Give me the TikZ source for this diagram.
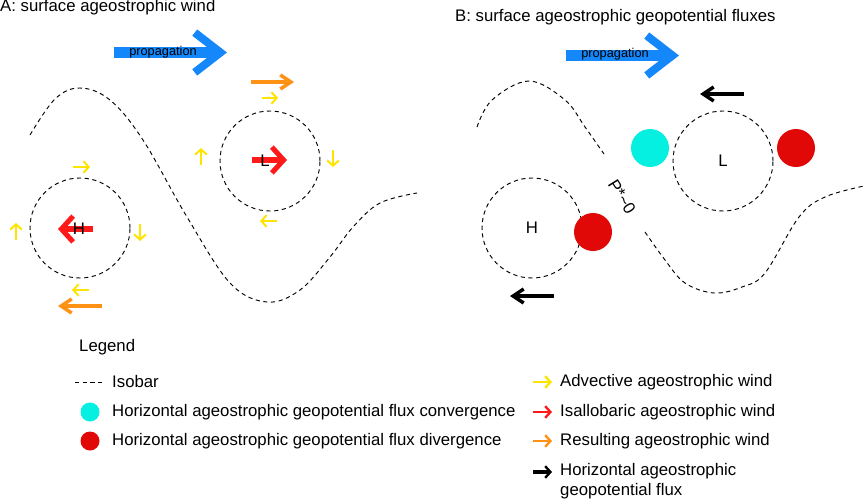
\documentclass[tikz,border=0pt]{standalone}
\usepackage{fontspec}
\setmainfont{Liberation Sans}
\usetikzlibrary{arrows.meta,positioning}

\definecolor{propblue}{RGB}{20,135,250}
\definecolor{advyellow}{RGB}{255,228,0}
\definecolor{isared}{RGB}{255,25,25}
\definecolor{resorange}{RGB}{255,145,20}
\definecolor{convcyan}{RGB}{5,240,225}
\definecolor{divred}{RGB}{225,8,8}

\begin{document}
\begin{tikzpicture}[x=0.03cm,y=-0.03cm,
  font=\fontsize{14.3}{17}\selectfont,
  isobar/.style={line width=0.8pt,dash pattern=on 3.6pt off 3pt},
  cyclone/.style={draw,circle,isobar,minimum size=3cm,inner sep=0pt},
  propag/.style={propblue,line width=9.4pt,-{Straight Barb[sharp,length=22pt,width=34pt,line width=6.8pt]}},
  propname/.style={font=\fontsize{10.9}{12}\selectfont,inner sep=0pt},
  advwind/.style={advyellow,line width=1.7pt,-{Straight Barb[sharp,length=4.5pt,width=10pt,line width=1.7pt]}},
  isawind/.style={isared,line width=5.1pt,-{Straight Barb[sharp,length=10pt,width=22pt,line width=4.3pt]}},
  reswind/.style={resorange,line width=3.4pt,-{Straight Barb[sharp,length=9pt,width=12pt,line width=3pt]}},
  geoflux/.style={black,line width=3.2pt,-{Straight Barb[sharp,length=9pt,width=12pt,line width=3pt]}},
  legkey/.style={line width=2.2pt,-{Straight Barb[sharp,length=4.5pt,width=10pt,line width=2pt]}},
  conv/.style={circle,fill=convcyan,minimum size=1.14cm,inner sep=0pt},
  div/.style={circle,fill=divred,minimum size=1.14cm,inner sep=0pt},
  keytext/.style={anchor=west,inner sep=0pt}]
  \useasboundingbox (0,0) rectangle (864,501);

  % Panel A: surface ageostrophic wind
  \node[anchor=west,inner sep=0pt] (titleA) at (0,7.5) {A: surface ageostrophic wind};
  \draw[propag] (114,52.5) -- (227,52.5);
  \node[propname] (propA) at (163,52) {propagation};

  \draw[isobar] plot[smooth,tension=0.6] coordinates {(30,135) (55,99) (80,88) (110,100)
    (143,140) (187,217) (230,283) (267,302) (300,290) (330,257) (353,227) (380,203) (417,193)};

  \node[cyclone] (highA) at (80,228) {};
  \node[cyclone] (lowA) at (270,161) {};

  \draw[isawind] (93,229) -- (58,229);
  \draw[isawind] (252,160) -- (287,160);
  \node[inner sep=0pt] (hA) at (79,229) {H};
  \node[inner sep=0pt] (lA) at (265,161) {L};

  \draw[advwind] (73,167) -- (90,167);
  \draw[advwind] (16,240) -- (16,223);
  \draw[advwind] (140,224) -- (140,241);
  \draw[advwind] (89,290) -- (72,290);
  \draw[reswind] (102,306) -- (58,306);

  \draw[advwind] (262,98) -- (278,98);
  \draw[advwind] (201,165) -- (201,148);
  \draw[advwind] (333,150) -- (333,167);
  \draw[advwind] (277,221) -- (260,221);
  \draw[reswind] (251,82) -- (294,82);

  % Panel B: surface ageostrophic geopotential fluxes
  \node[anchor=west,inner sep=0pt] (titleB) at (455,17.5) {B: surface ageostrophic geopotential fluxes};
  \draw[propag] (566,55.5) -- (679,55.5);
  \node[propname] (propB) at (615,54) {propagation};

  \draw[isobar] plot[smooth,tension=0.6] coordinates {(477,127) (492,100) (529,81) (565,100)
    (585,127) (604,154)};
  \draw[isobar] plot[smooth,tension=0.6] coordinates {(645,232) (665,260) (685,283) (714,293)
    (742,287) (765,273) (799,217) (825,197) (864,186)};

  \node[cyclone] (highB) at (532,228) {H};
  \node[cyclone] (lowB) at (723,161) {L};

  \node[conv] (convL) at (650,148) {};
  \node[div] (divL) at (796,148) {};
  \node[div] (divH) at (593,232) {};

  \draw[geoflux] (744,94) -- (700,94);
  \draw[geoflux] (554,296) -- (510,296);

  \node[rotate=-58,inner sep=0pt] (pstar) at (622,197) {P*\textasciitilde0};

  % Legend
  \node[keytext] (legend) at (79,347) {Legend};
  \draw[isobar] (75,382) -- (105,382);
  \node[keytext] (isobar) at (112,382) {Isobar};
  \node[conv,minimum size=0.57cm] (convkey) at (90,412) {};
  \node[keytext] (convtext) at (112,412) {Horizontal ageostrophic geopotential flux convergence};
  \node[div,minimum size=0.57cm] (divkey) at (90,441) {};
  \node[keytext] (divtext) at (112,441) {Horizontal ageostrophic geopotential flux divergence};

  \draw[legkey,advyellow,line width=1.7pt] (533,382) -- (552,382);
  \node[keytext] (advtext) at (560,382) {Advective ageostrophic wind};
  \draw[legkey,isared] (533,412) -- (552,412);
  \node[keytext] (isatext) at (560,412) {Isallobaric ageostrophic wind};
  \draw[legkey,resorange] (533,441) -- (552,441);
  \node[keytext] (restext) at (560,441) {Resulting ageostrophic wind};
  \draw[legkey,black,line width=2.6pt] (533,472) -- (552,472);
  \node[keytext,align=left,anchor=north west] (fluxtext) at (560,463) {Horizontal ageostrophic\\geopotential flux};
\end{tikzpicture}
\end{document}
